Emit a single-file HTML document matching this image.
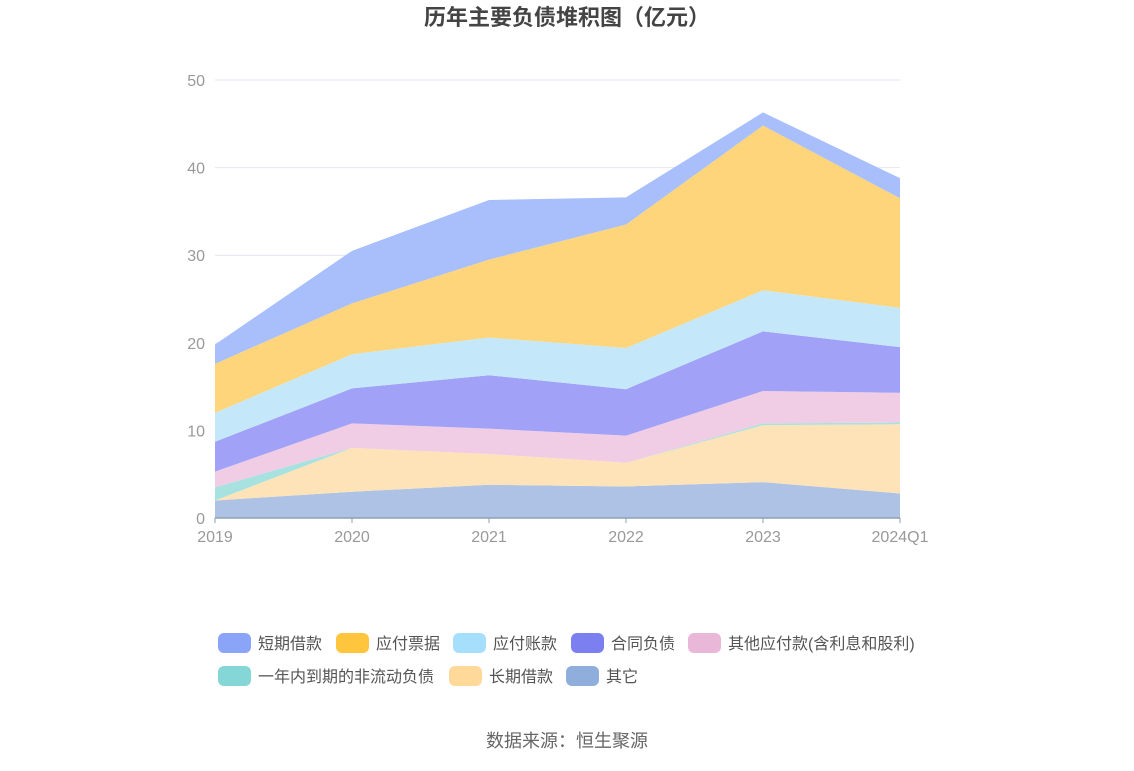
<!DOCTYPE html>
<html><head><meta charset="utf-8"><style>
body{margin:0;background:#fff;font-family:"Liberation Sans","Noto Sans CJK SC",sans-serif;}
</style></head><body>
<svg id="c" width="1134" height="766" xmlns="http://www.w3.org/2000/svg"></svg>
<script>
const categories=["2019","2020","2021","2022","2023","2024Q1"];
const seriesNames=["其它","长期借款","一年内到期的非流动负债","其他应付款(含利息和股利)","合同负债","应付账款","应付票据","短期借款"];
const vOther=[2,3,3.8,3.6,4.1,2.8];
const vLong=[0,5,3.5,2.7,6.5,7.9];
const vCurrent=[1.5,0,0,0,0.2,0.2];
const vOtherPay=[1.8,2.8,2.9,3.1,3.7,3.4];
const vContract=[3.4,4,6.1,5.3,6.8,5.2];
const vPayable=[3.3,3.9,4.3,4.7,4.7,4.5];
const vNotes=[5.6,5.8,8.9,14.1,18.8,12.5];
const vShort=[2.2,6,6.8,3.1,1.5,2.3];
const yTicks=[0,10,20,30,40,50];
const seriesVals=[vOther,vLong,vCurrent,vOtherPay,vContract,vPayable,vNotes,vShort];
const colors=["#8faedc","#ffd99a","#85d6d6","#e9b8d8","#7b7ff0","#a6dffb","#ffc53d","#8aa4f8"];
const fillColors=["#adc2e4","#fee3b8","#a8e2e0","#f0cde4","#a0a1f7","#c4e8fa","#fed57a","#a8bffc"];
const names=["其它","长期借款","一年内到期的非流动负债","其他应付款(含利息和股利)","合同负债","应付账款","应付票据","短期借款"];
const svg=document.getElementById('c');const NS="http://www.w3.org/2000/svg";
const x=i=>215+i*(900-215)/(categories.length-1);
const y=v=>518-v*(518-80)/50;
function el(t,a,p){const e=document.createElementNS(NS,t);for(const k in a)e.setAttribute(k,a[k]);(p||svg).appendChild(e);return e;}
const title=el('text',{x:567,y:25,'text-anchor':'middle','font-size':22,'font-weight':'bold',fill:'#444'});title.textContent="历年主要负债堆积图（亿元）";


yTicks.forEach(t=>{
 if(t>0){const g=el('line',{x1:215,x2:900,y1:y(t),y2:y(t),stroke:'#e4e6f0'});}
 const l=el('text',{x:205,y:y(t)+6,'text-anchor':'end','font-size':16,fill:'#999'});l.textContent=t;
 
 
});
let base=categories.map(()=>0);
seriesVals.forEach((vals,s)=>{
 const top=base.map((b,i)=>b+vals[i]);
 let d=top.map((v,i)=>(i?'L':'M')+x(i)+','+y(v)).join(' ');
 for(let i=categories.length-1;i>=0;i--)d+=' L'+x(i)+','+y(base[i]);
 const p=el('path',{d:d+'Z',fill:fillColors[s],stroke:'none'});
 
 
 base=top;
});
const ax=el('line',{x1:215,x2:900,y1:518,y2:518,stroke:'#8fa0b0','stroke-width':1.5});


categories.forEach((c,i)=>{
 el('line',{x1:x(i),x2:x(i),y1:518,y2:523,stroke:'#8fa0b0'});
 const t=el('text',{x:x(i),y:542,'text-anchor':'middle','font-size':16,fill:'#999'});t.textContent=c;
 
 
});
const legendOrder=[7,6,5,4,3,2,1,0];
const pos=[[218,643],[336,643],[453,643],[571,643],[688,643],[218,676],[449,676],[566,676]];
legendOrder.forEach((s,k)=>{
 const g=el('g',{});
 
 
 el('rect',{x:pos[k][0],y:pos[k][1]-10,width:33,height:20,rx:6,fill:colors[s]},g);
 const t=el('text',{x:pos[k][0]+40,y:pos[k][1]+6,'font-size':16,fill:'#555'},g);t.textContent=names[s];
});
const src=el('text',{x:567,y:747,'text-anchor':'middle','font-size':18,fill:'#666'});src.textContent="数据来源：恒生聚源";


</script>
</body></html>
